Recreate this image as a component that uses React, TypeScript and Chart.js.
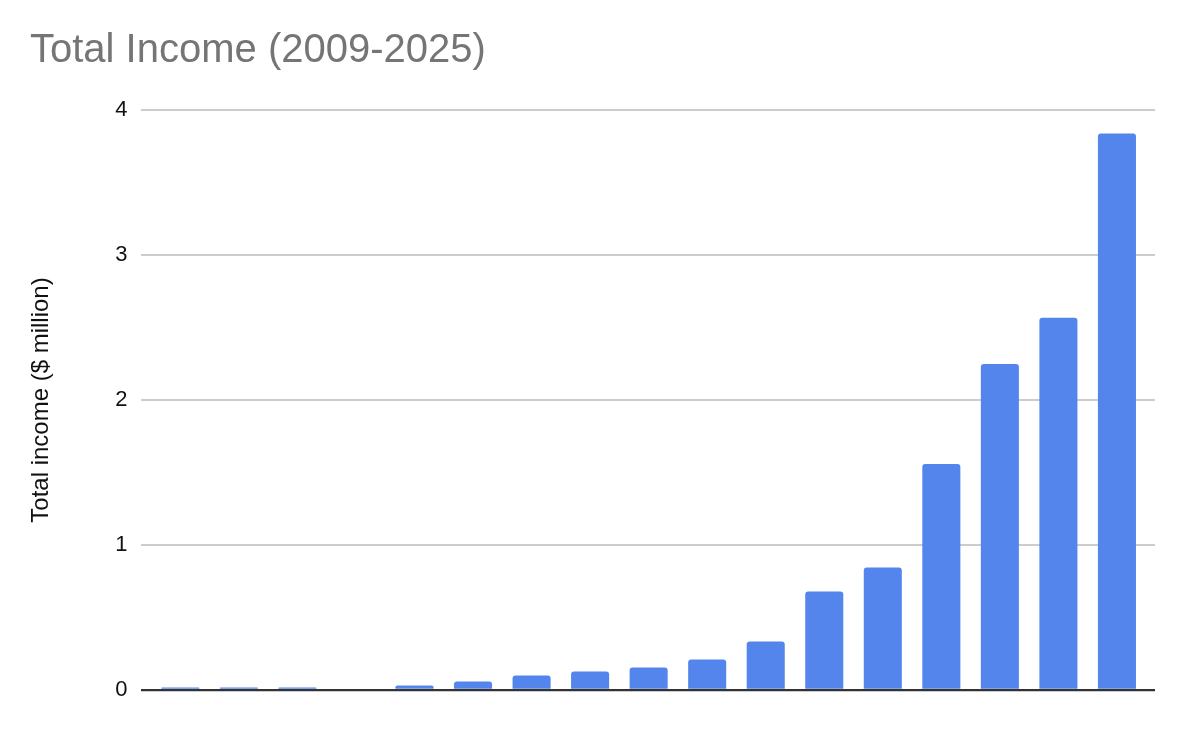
import React, { useEffect, useRef } from "react";
import { Chart, registerables } from "chart.js";

Chart.register(...registerables);

const years = [
  "2009", "2010", "2011", "2012", "2013", "2014", "2015", "2016", "2017",
  "2018", "2019", "2020", "2021", "2022", "2023", "2024", "2025",
];
const income = [
  0.017, 0.017, 0.017, 0, 0.031, 0.059, 0.1, 0.128, 0.155,
  0.21, 0.335, 0.68, 0.845, 1.559, 2.249, 2.567, 3.838,
];
const yTicks = [0, 1, 2, 3, 4];

const FONT = "Arial, 'Liberation Sans', sans-serif";

const App: React.FC = () => {
  const canvasRef = useRef<HTMLCanvasElement>(null);

  useEffect(() => {
    if (!canvasRef.current) return;
    const ctx = canvasRef.current.getContext("2d");
    if (!ctx) return;

    const chart = new Chart(ctx, {
      type: "bar",
      data: {
        datasets: [
          {
            label: "Total income",
            data: years.map((y, i) => ({ x: i, y: income[i] })),
            backgroundColor: "#5385ec",
            borderRadius: { topLeft: 3, topRight: 3 },
            borderSkipped: "start",
            barPercentage: 0.65,
            categoryPercentage: 1,
          },
        ],
      },
      options: {
        responsive: true,
        maintainAspectRatio: false,
        animation: false,
        layout: {
          padding: { left: 30, right: 33, top: 0, bottom: 42 },
        },
        plugins: {
          legend: { display: false },
          tooltip: { enabled: false },
          title: {
            display: true,
            text: "Total Income (2009-2025)",
            align: "start",
            color: "#757575",
            font: { family: FONT, size: 40, weight: "normal" },
            padding: { top: 27, bottom: 35 },
          },
        },
        scales: {
          x: {
            type: "linear",
            min: -0.68,
            max: 16.65,
            offset: false,
            display: false,
          },
          y: {
            min: 0,
            max: 4,
            afterBuildTicks: (scale) => {
              scale.ticks = yTicks.map((v) => ({ value: v }));
            },
            border: { display: false },
            grid: {
              drawTicks: false,
              color: (c) => (c.tick && c.tick.value === 0 ? "#333333" : "#cccccc"),
              lineWidth: (c) => (c.tick && c.tick.value === 0 ? 2.3 : 2),
            },
            ticks: {
              color: "#111111",
              padding: 13,
              font: { family: FONT, size: 22 },
            },
            title: {
              display: true,
              text: "Total income ($ million)",
              color: "#111111",
              font: { family: FONT, size: 24 },
              padding: { top: -3, bottom: 46.5 },
            },
          },
        },
      },
    });

    return () => {
      chart.destroy();
    };
  }, []);

  return (
    <div
      style={{
        position: "fixed",
        left: 0,
        top: 0,
        width: "1188px",
        height: "732px",
        background: "#ffffff",
      }}
    >
      <canvas ref={canvasRef} />
    </div>
  );
};

export default App;
